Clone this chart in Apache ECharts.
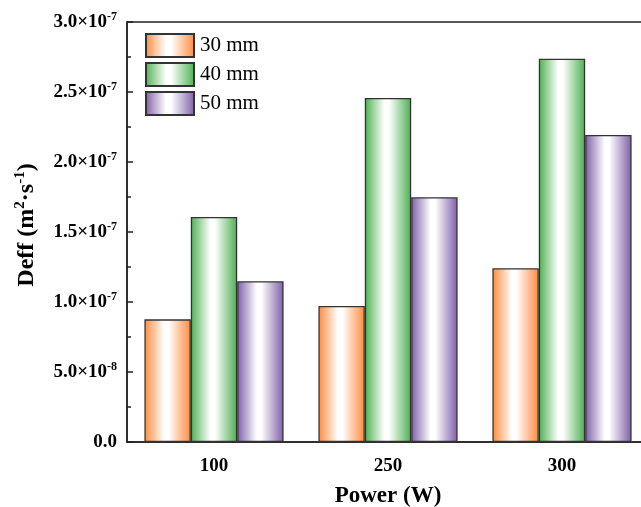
<!DOCTYPE html>
<html>
<head>
<meta charset="utf-8">
<script src="https://cdn.jsdelivr.net/npm/echarts@6/dist/echarts.min.js"></script>
<style>
  html, body { margin: 0; padding: 0; background: #fff; }
  #chart { width: 641px; height: 507px; }
</style>
</head>
<body>
<div id="chart"></div>
<script>
// Drying power levels (W)
const categories = ['100', '250', '300'];
// Effective moisture diffusivity, m^2/s, per slice thickness
const series30mm = [0.876e-7, 0.971e-7, 1.241e-7];
const series40mm = [1.607e-7, 2.457e-7, 2.738e-7];
const series50mm = [1.148e-7, 1.748e-7, 2.193e-7];
const seriesNames = ['30 mm', '40 mm', '50 mm'];
const seriesColors = ['#ff8a3d', '#4caf50', '#7d5fa8'];

const FONT = '"Liberation Serif", "Times New Roman", serif';

function barFill(c) {
  return {
    type: 'linear', x: 0, y: 0, x2: 1, y2: 0,
    colorStops: [
      { offset: 0, color: c },
      { offset: 0.42, color: '#ffffff' },
      { offset: 0.52, color: '#ffffff' },
      { offset: 1, color: c }
    ]
  };
}

function sciLabel(v) {
  if (v === 0) return '{m|0.0}';
  const e = Math.floor(Math.log10(v) + 1e-9);
  const m = (v / Math.pow(10, e)).toFixed(1);
  return '{m|' + m + '×10}{s|' + e + '}';
}

const chart = echarts.init(document.getElementById('chart'), null, { renderer: 'canvas' });

const values = [series30mm, series40mm, series50mm];

chart.setOption({
  animation: false,
  backgroundColor: '#ffffff',
  grid: {
    left: 127, top: 22, right: -8, bottom: 65,
    containLabel: false,
    outerBoundsMode: 'none',
    show: true, borderColor: '#222', borderWidth: 1.5
  },
  legend: {
    orient: 'vertical',
    left: 140, top: 28,
    icon: 'rect',
    itemWidth: 48, itemHeight: 23, itemGap: 4,
    textStyle: { fontFamily: FONT, fontSize: 21, color: '#000', padding: [0, 0, 0, 1] },
    data: seriesNames
  },
  xAxis: [{
    type: 'category',
    data: categories,
    axisLine: { lineStyle: { color: '#222', width: 1.5 } },
    axisTick: { inside: true, alignWithLabel: true, length: 6, lineStyle: { color: '#222', width: 1.5 } },
    axisLabel: { fontFamily: FONT, fontWeight: 'bold', fontSize: 19, color: '#000', margin: 15 },
    name: 'Power (W)',
    nameLocation: 'middle',
    nameGap: 43,
    nameTextStyle: { fontFamily: FONT, fontWeight: 'bold', fontSize: 23, color: '#000' }
  }, {
    type: 'category',
    data: categories,
    position: 'bottom',
    axisLine: { show: false },
    axisTick: { inside: true, length: 3, lineStyle: { color: '#222', width: 1.5 } },
    axisLabel: { show: false }
  }],
  yAxis: {
    type: 'value',
    min: 0, max: 3e-7, interval: 0.5e-7,
    axisLine: { show: true, lineStyle: { color: '#222', width: 1.5 } },
    axisTick: { show: true, inside: true, length: 6, lineStyle: { color: '#222', width: 1.5 } },
    minorTick: { show: true, splitNumber: 2, length: 4, lineStyle: { color: '#222', width: 1.5 } },
    splitLine: { show: false },
    axisLabel: {
      margin: 10,
      formatter: sciLabel,
      rich: {
        m: { fontFamily: FONT, fontWeight: 'bold', fontSize: 19, color: '#000', lineHeight: 22 },
        s: { fontFamily: FONT, fontWeight: 'bold', fontSize: 12, color: '#000', verticalAlign: 'top', lineHeight: 22, padding: [0, 0, 8, 0] }
      }
    },
    name: '{t|Deff (m}{s|2}{t|·s}{s|-1}{t|)}',
    nameLocation: 'middle',
    nameRotate: 90,
    nameGap: 86,
    nameTextStyle: {
      padding: [0, 0, 0, 14],
      rich: {
        t: { fontFamily: FONT, fontWeight: 'bold', fontSize: 24, color: '#000', lineHeight: 28 },
        s: { fontFamily: FONT, fontWeight: 'bold', fontSize: 15, color: '#000', verticalAlign: 'top', lineHeight: 28, padding: [0, 0, 12, 0] }
      }
    }
  },
  series: seriesNames.map((name, i) => ({
    name: name,
    type: 'bar',
    data: values[i],
    barGap: '0%',
    barCategoryGap: '20%',
    itemStyle: { color: barFill(seriesColors[i]), borderColor: '#333', borderWidth: 1.3 }
  }))
});
</script>
</body>
</html>
